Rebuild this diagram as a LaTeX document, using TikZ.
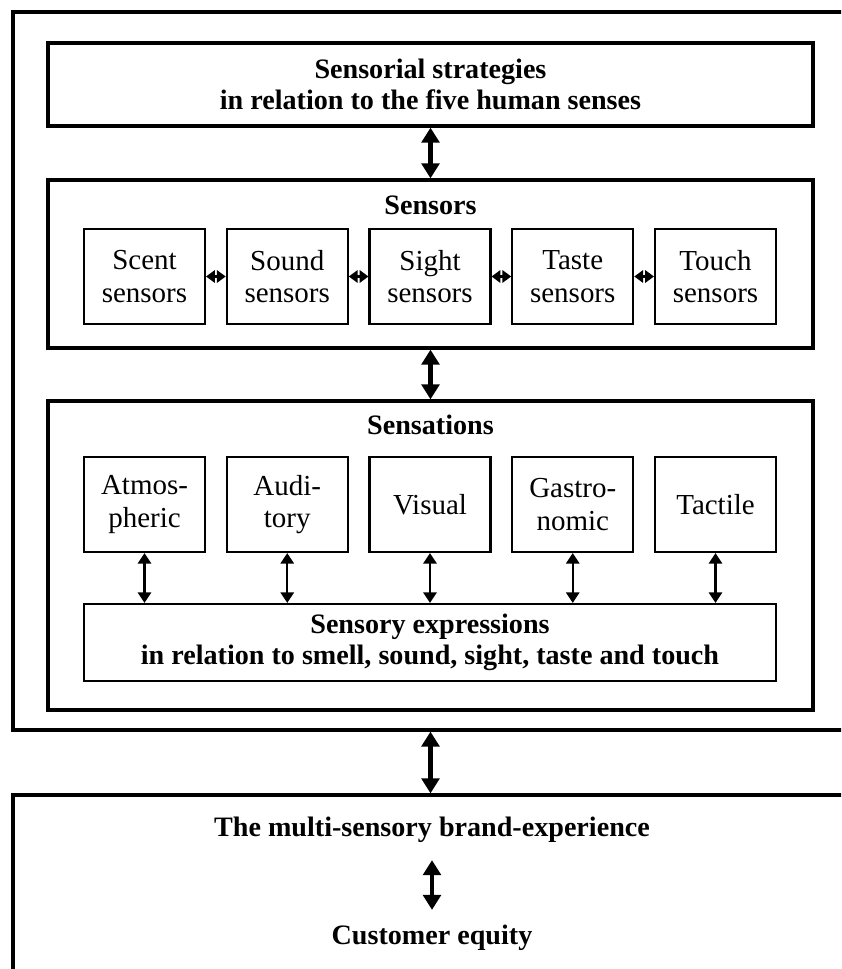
\documentclass[tikz,border=0pt]{standalone}
\usepackage{fontspec}
\setmainfont{Liberation Serif}
\usetikzlibrary{arrows.meta, positioning, calc}

\begin{document}
\begin{tikzpicture}[x=0.02cm, y=-0.02cm,
  txt/.style={font=\fontsize{16.5}{18.5}\selectfont, align=center, inner sep=0pt},
  hd/.style={txt, font=\fontsize{16}{18}\selectfont\bfseries},
  frame/.style={draw, line width=1.9pt, inner sep=0pt},
  box/.style={draw, line width=1.2pt, txt, minimum width=2.42cm, minimum height=1.9cm},
  bigarr/.style={<->, >={Triangle[width=10pt,length=8.5pt]}, line width=2.3pt},
  smallarr/.style={<->, >={Triangle[width=7.5pt,length=6pt]}, line width=1.3pt},
  sidearr/.style={<->, >={Triangle[width=7pt,length=5pt]}, line width=1.2pt},
]
\useasboundingbox (0,0) rectangle (841,969);
\clip (0,0) rectangle (841,969);

% outer frames (run past the page edge)
\node[frame, minimum width=17.14cm, minimum height=14.36cm] (outer) at (441.5, 371) {};
\node[frame, minimum width=17.14cm, minimum height=4.1cm] (brandbox) at (441.5, 897.5) {};

% strategies
\node[frame, hd, minimum width=15.3cm, minimum height=1.66cm] (strat) at (430.5, 84.5)
{Sensorial strategies\\in relation to the five human senses};

% Sensors
\node[frame, minimum width=15.3cm, minimum height=3.36cm] (sensors) at (430.5, 264) {};
\node[hd] (sensorstitle) at (430.5, 205) {Sensors};

\node[box] (s1) at (144.5, 276.5) {Scent\\sensors};
\node[box] (s2) at (287.25, 276.5) {Sound\\sensors};
\node[box] (s3) at (430, 276.5) {Sight\\sensors};
\node[box] (s4) at (572.75, 276.5) {Taste\\sensors};
\node[box] (s5) at (715.5, 276.5) {Touch\\sensors};

\foreach \a/\b in {s1/s2, s2/s3, s3/s4, s4/s5}
  \draw[sidearr] (\a.east) -- (\b.west);

% Sensations
\node[frame, minimum width=15.3cm, minimum height=6.18cm] (sensations) at (430.5, 555.5) {};
\node[hd] (sensationstitle) at (430.5, 425) {Sensations};

\node[box] (a1) at (144.5, 504.5) {Atmos-\\pheric};
\node[box] (a2) at (287.25, 504.5) {Audi-\\tory};
\node[box] (a3) at (430, 504.5) {Visual};
\node[box] (a4) at (572.75, 504.5) {Gastro-\\nomic};
\node[box] (a5) at (715.5, 504.5) {Tactile};

\node[draw, line width=1.2pt, hd, minimum width=13.84cm, minimum height=1.54cm] (expr) at (430, 642.5)
{Sensory expressions\\in relation to smell, sound, sight, taste and touch};

\foreach \a in {a1, a2, a3, a4, a5}
  \draw[smallarr] (\a.south) -- (expr.north -| \a.south);

% links between levels
\draw[bigarr] (strat.south -| sensorstitle) -- (sensors.north -| sensorstitle);
\draw[bigarr] (sensors.south -| sensorstitle) -- (sensations.north -| sensorstitle);
\draw[bigarr] (outer.south -| sensorstitle) -- (brandbox.north -| sensorstitle);

% brand experience
\node[hd] (brand) at (432, 830) {The multi-sensory brand-experience};
\node[hd] (equity) at (432, 938) {Customer equity};
\draw[bigarr, shorten <=0.34cm, shorten >=0.3cm] (brand.south) -- (equity.north);
\end{tikzpicture}
\end{document}
